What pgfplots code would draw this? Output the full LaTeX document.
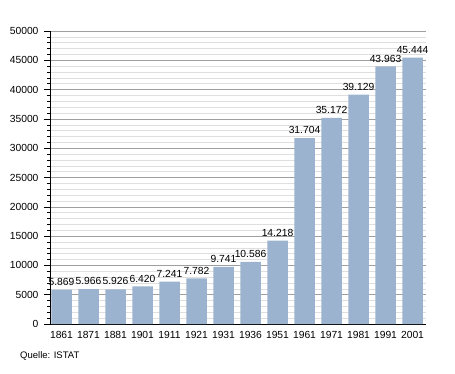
\documentclass[border=0pt]{standalone}
\usepackage{fontspec}
\setmainfont{Liberation Sans}
\usepackage{pgfplots}
\pgfplotsset{compat=1.18}
\definecolor{barblue}{RGB}{155,179,206}
\begin{document}
\begin{tikzpicture}[x=1pt,y=1pt]
\useasboundingbox (0,0) rectangle (455,373);
\begin{axis}[
  at={(50pt,49pt)}, anchor=south west,
  scale only axis, width=376pt, height=293pt,
  xmin=-0.426, xmax=13.5, ymin=0, ymax=50000,
  axis x line=bottom, axis y line=left,
  axis line style={-, black, line width=0.8pt},
  xtick={0,...,13},
  xticklabels={1861,1871,1881,1901,1911,1921,1931,1936,1951,1961,1971,1981,1991,2001},
  x tick style={draw=none},
  ytick={0,5000,...,50000},
  minor y tick num=4,
  ymajorgrids, yminorgrids,
  major grid style={gray!75, line width=0.6pt},
  minor grid style={gray!25, line width=0.5pt},
  tick align=outside, major tick length=6pt, minor tick length=3pt,
  y tick style={black, line width=0.5pt},
  /pgf/number format/assume math mode=true,
  scaled y ticks=false,
  y tick label style={/pgf/number format/1000 sep={}, font=\fontsize{10.3}{11}\selectfont, xshift=-2pt},
  x tick label style={font=\fontsize{10.3}{11}\selectfont, yshift=2pt},
  clip=false,
]
\addplot[ybar, bar width=20.5pt, fill=barblue, draw=none,
  nodes near coords, point meta=explicit symbolic,
  every node near coord/.style={font=\fontsize{10.3}{11}\selectfont, inner sep=1pt, yshift=3pt}]
  table[meta=label] {
x y label
0 5869 5.869
1 5966 5.966
2 5926 5.926
3 6420 6.420
4 7241 7.241
5 7782 7.782
6 9741 9.741
7 10586 10.586
8 14218 14.218
9 31704 31.704
10 35172 35.172
11 39129 39.129
12 43963 43.963
13 45444 45.444
};
\end{axis}
\node[anchor=west, font=\fontsize{9.5}{10}\selectfont, inner sep=0pt] at (20,17) {Quelle: ISTAT};
\end{tikzpicture}
\end{document}
